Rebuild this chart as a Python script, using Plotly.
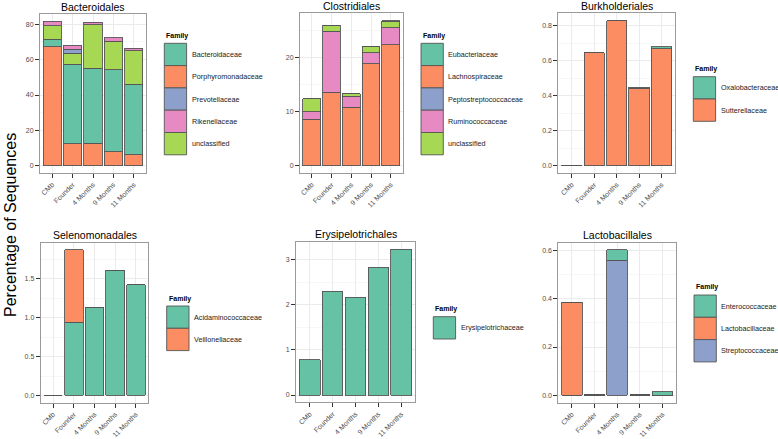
import plotly.graph_objects as go

W, H = 778, 439
SET2 = ["#66C2A5", "#FC8D62", "#8DA0CB", "#E78AC3", "#A6D854"]
FONT = "Liberation Sans, Arial, Helvetica, sans-serif"

months = ["CMb", "Founder", "4 Months", "9 Months", "11 Months"]

# ---------------- data (percentage of sequences) ----------------
# Bacteroidales
bact_families = ["Bacteroidaceae", "Porphyromonadaceae", "Prevotellaceae", "Rikenellaceae", "unclassified"]
bact_porphyromonadaceae = [67.3, 12.5, 12.7, 8.0, 6.2]
bact_bacteroidaceae = [4.3, 44.9, 42.4, 46.4, 40.0]
bact_unclassified = [7.5, 6.2, 24.5, 16.1, 18.8]
bact_prevotellaceae = [0.0, 2.4, 0.0, 0.0, 0.0]
bact_rikenellaceae = [2.6, 2.2, 1.5, 1.8, 1.4]

# Clostridiales
clos_families = ["Eubacteriaceae", "Lachnospiraceae", "Peptostreptococcaceae", "Ruminococcaceae", "unclassified"]
clos_lachnospiraceae = [8.6, 13.6, 10.8, 18.8, 22.3]
clos_ruminococcaceae = [1.4, 11.2, 2.0, 2.1, 3.2]
clos_unclassified = [2.4, 1.15, 0.45, 1.1, 1.1]
clos_eubacteriaceae = [0.0, 0.0, 0.0, 0.0, 0.1]
clos_peptostreptococcaceae = [0.0, 0.0, 0.0, 0.0, 0.1]

# Burkholderiales
burk_families = ["Oxalobacteraceae", "Sutterellaceae"]
burk_sutterellaceae = [0.002, 0.645, 0.828, 0.444, 0.670]
burk_oxalobacteraceae = [0.0, 0.002, 0.002, 0.004, 0.010]

# Selenomonadales
sele_families = ["Acidaminococcaceae", "Veillonellaceae"]
sele_acidaminococcaceae = [0.003, 0.943, 1.131, 1.611, 1.423]
sele_veillonellaceae = [0.0, 0.930, 0.0, 0.0, 0.0]

# Erysipelotrichales
erys_families = ["Erysipelotrichaceae"]
erys_erysipelotrichaceae = [0.78, 2.30, 2.175, 2.843, 3.237]

# Lactobacillales
lact_families = ["Enterococcaceae", "Lactobacillaceae", "Streptococcaceae"]
lact_streptococcaceae = [0.0, 0.0, 0.559, 0.0, 0.0]
lact_lactobacillaceae = [0.384, 0.002, 0.0, 0.002, 0.0]
lact_enterococcaceae = [0.0, 0.0, 0.042, 0.0, 0.015]

# ---------------- panel specs (built from the data above) ----------------
panels = [
    dict(title="Bacteroidales", families=bact_families,
         stack=[("Porphyromonadaceae", bact_porphyromonadaceae), ("Bacteroidaceae", bact_bacteroidaceae),
                ("unclassified", bact_unclassified), ("Prevotellaceae", bact_prevotellaceae),
                ("Rikenellaceae", bact_rikenellaceae)],
         box=(40, 146, 14, 173), dtick=20, minor=10, fmt="d", leg=(164.3, 36, 43.3)),
    dict(title="Clostridiales", families=clos_families,
         stack=[("Lachnospiraceae", clos_lachnospiraceae), ("Ruminococcaceae", clos_ruminococcaceae),
                ("unclassified", clos_unclassified), ("Eubacteriaceae", clos_eubacteriaceae),
                ("Peptostreptococcaceae", clos_peptostreptococcaceae)],
         box=(300, 402.7, 13.3, 173), dtick=10, minor=5, fmt="d", leg=(421, 36, 43.3)),
    dict(title="Burkholderiales", families=burk_families,
         stack=[("Sutterellaceae", burk_sutterellaceae), ("Oxalobacteraceae", burk_oxalobacteraceae)],
         box=(558.3, 675, 13.3, 173), dtick=0.2, minor=0.1, fmt=".1f", leg=(693.3, 69, 76.7)),
    dict(title="Selenomonadales", families=sele_families,
         stack=[("Acidaminococcaceae", sele_acidaminococcaceae), ("Veillonellaceae", sele_veillonellaceae)],
         box=(40.7, 148.3, 242.7, 402.7), dtick=0.5, minor=0.25, fmt=".1f", leg=(166.7, 299, 306)),
    dict(title="Erysipelotrichales", families=erys_families,
         stack=[("Erysipelotrichaceae", erys_erysipelotrichaceae)],
         box=(296, 415, 242, 402.3), dtick=1, minor=0.5, fmt="d", leg=(433.3, 309.3, 316.7)),
    dict(title="Lactobacillales", families=lact_families,
         stack=[("Streptococcaceae", lact_streptococcaceae), ("Lactobacillaceae", lact_lactobacillaceae),
                ("Enterococcaceae", lact_enterococcaceae)],
         box=(558.3, 676, 242.7, 402.7), dtick=0.2, minor=0.1, fmt=".1f", leg=(694, 287.3, 295)),
]


def px(x):
    return x / W


def py(y):
    return 1 - y / H


fig = go.Figure()
shapes = []
annotations = []
KEY = 22.3
OUTLINE = "#555555"

for i, p in enumerate(panels, start=1):
    sfx = "" if i == 1 else str(i)
    color = {f: SET2[k] for k, f in enumerate(p["families"])}
    totals = [0.0] * len(months)
    for fam, vals in p["stack"]:
        totals = [a + b for a, b in zip(totals, vals)]
        fig.add_trace(go.Bar(
            x=months, y=vals, name=fam, width=0.9,
            xaxis="x" + sfx, yaxis="y" + sfx, showlegend=False,
            marker=dict(color=color[fam], line=dict(color=OUTLINE, width=0.9)),
        ))
    mx = max(totals)
    x0, x1, y0, y1 = p["box"]
    fig.layout["xaxis" + sfx] = dict(
        domain=[px(x0), px(x1)], anchor="y" + sfx, type="category",
        categoryorder="array", categoryarray=months, range=[-0.6, 4.6],
        showline=True, mirror=True, linecolor="#9a9a9a", linewidth=1,
        ticks="outside", ticklen=4, tickwidth=1, tickcolor="#333333",
        tickangle=-45, tickfont=dict(size=7, color="#4d4d4d", family=FONT),
        showgrid=True, gridcolor="#ebebeb", gridwidth=1, zeroline=False, fixedrange=True,
    )
    fig.layout["yaxis" + sfx] = dict(
        domain=[py(y1), py(y0)], anchor="x" + sfx,
        range=[-0.05 * mx, 1.05 * mx], tick0=0, dtick=p["dtick"], tickformat=p["fmt"],
        showline=True, mirror=True, linecolor="#9a9a9a", linewidth=1,
        ticks="outside", ticklen=4, tickwidth=1, tickcolor="#333333",
        tickfont=dict(size=7, color="#4d4d4d", family=FONT),
        showgrid=True, gridcolor="#ebebeb", gridwidth=1, zeroline=False,
        minor=dict(dtick=p["minor"], tick0=0, showgrid=True, gridcolor="#f7f7f7", gridwidth=1),
        fixedrange=True,
    )
    # panel title
    annotations.append(dict(
        x=px((x0 + x1) / 2), y=py(y0 - 7.5), xref="paper", yref="paper",
        text=p["title"], showarrow=False, xanchor="center", yanchor="middle",
        font=dict(size=10.5, color="#000000", family=FONT),
    ))
    # legend (ggplot-style)
    lx, ty, ky = p["leg"]
    annotations.append(dict(
        x=px(lx), y=py(ty), xref="paper", yref="paper", text="<b>Family</b>",
        showarrow=False, xanchor="left", yanchor="middle",
        font=dict(size=7, color="#000000", family=FONT),
    ))
    for k, fam in enumerate(p["families"]):
        top = ky + k * KEY
        shapes.append(dict(
            type="rect", xref="paper", yref="paper",
            x0=px(lx), x1=px(lx + KEY), y0=py(top + KEY), y1=py(top),
            fillcolor=color[fam], line=dict(color=OUTLINE, width=0.9), layer="above",
        ))
        annotations.append(dict(
            x=px(lx + KEY + 3), y=py(top + KEY / 2), xref="paper", yref="paper",
            text=fam, showarrow=False, xanchor="left", yanchor="middle",
            font=dict(size=7.2, color="#1a1a1a", family=FONT),
        ))

annotations.append(dict(
    x=px(10), y=py(225), xref="paper", yref="paper", text="Percentage of Sequences",
    showarrow=False, textangle=-90, xanchor="center", yanchor="middle",
    font=dict(size=16, color="#000000", family=FONT),
))

fig.update_layout(
    width=W, height=H, autosize=False,
    margin=dict(l=0, r=0, t=0, b=0),
    paper_bgcolor="white", plot_bgcolor="white",
    barmode="stack", showlegend=False,
    font=dict(family=FONT),
    shapes=shapes, annotations=annotations,
)

fig.write_html(
    "out.html",
    config=dict(displayModeBar=False),
    post_script="document.body.style.margin='0';document.body.style.padding='0';"
                "document.body.style.overflow='hidden';",
)
